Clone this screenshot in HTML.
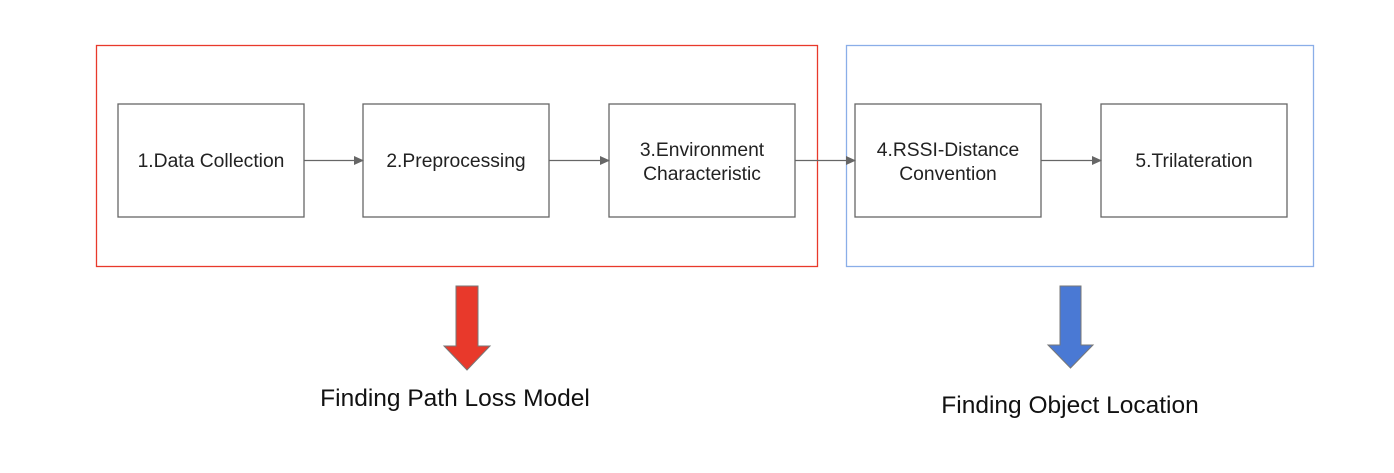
<!DOCTYPE html>
<html><head><style>body{margin:0;background:#fff}</style></head><body>
<svg width="1394" height="468" xmlns="http://www.w3.org/2000/svg" font-family="Liberation Sans, Arial, sans-serif">
<defs><marker id="a" markerWidth="10" markerHeight="10" refX="9" refY="5" orient="auto" markerUnits="userSpaceOnUse"><path d="M0,0.5 L10,5 L0,9.5z" fill="#666"/></marker></defs>
<rect x="96.5" y="45.5" width="721" height="221" fill="none" stroke="#e8392b" stroke-width="1.3"/>
<rect x="846.5" y="45.5" width="467" height="221" fill="none" stroke="#8aaee8" stroke-width="1.3"/>
<g fill="#fff" stroke="#666" stroke-width="1.3">
<rect x="118" y="104" width="186" height="113"/>
<rect x="363" y="104" width="186" height="113"/>
<rect x="609" y="104" width="186" height="113"/>
<rect x="855" y="104" width="186" height="113"/>
<rect x="1101" y="104" width="186" height="113"/>
</g>
<g stroke="#666" stroke-width="1.3" marker-end="url(#a)">
<line x1="304" y1="160.5" x2="363" y2="160.5"/>
<line x1="549" y1="160.5" x2="609" y2="160.5"/>
<line x1="795" y1="160.5" x2="855" y2="160.5"/>
<line x1="1041" y1="160.5" x2="1101" y2="160.5"/>
</g>
<g font-size="19.3" fill="#222" text-anchor="middle">
<text x="211" y="167">1.Data Collection</text>
<text x="456" y="167">2.Preprocessing</text>
<text x="702" y="156">3.Environment</text>
<text x="702" y="180">Characteristic</text>
<text x="948" y="156">4.RSSI-Distance</text>
<text x="948" y="180">Convention</text>
<text x="1194" y="167">5.Trilateration</text>
</g>
<path d="M456,286 H478 V346 H490 L467,370 L444,346 H456Z" fill="#e8392b" stroke="#777" stroke-width="1"/>
<path d="M1060,286 H1081 V345 H1093 L1070.5,368 L1048,345 H1060Z" fill="#4a79d4" stroke="#777" stroke-width="1"/>
<g font-size="24.5" fill="#111" text-anchor="middle">
<text x="455" y="406">Finding Path Loss Model</text>
<text x="1070" y="413">Finding Object Location</text>
</g>
</svg>
</body></html>
